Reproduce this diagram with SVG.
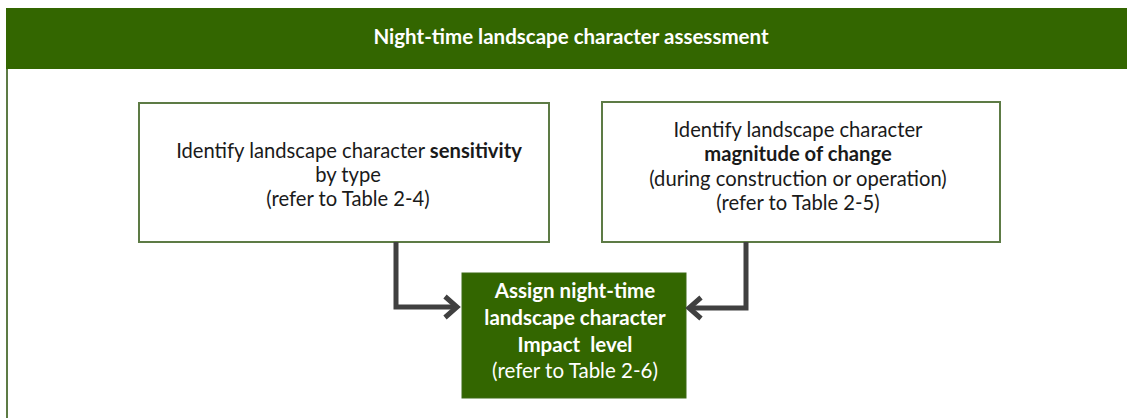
<svg xmlns="http://www.w3.org/2000/svg" width="1127" height="418" viewBox="0 0 1127 418">
  <style>
    .t { font-family: Lato, "Open Sans", "Liberation Sans", sans-serif; text-anchor: middle; }
    .dark { fill: #1a1a1a; font-size: 20.2px; }
    .light { fill: #ffffff; font-size: 20.5px; }
    .b { font-weight: bold; }
    .box { fill: #ffffff; stroke: #5d7b45; stroke-width: 2; }
    .conn { fill: none; stroke: #404040; stroke-width: 5; stroke-linejoin: miter; }
  </style>
  <defs>
    <marker id="chev" markerUnits="userSpaceOnUse" markerWidth="20" markerHeight="30" refX="14" refY="12" orient="auto" viewBox="0 0 20 24">
      <polyline points="2,1.5 14,12 2,22.5" fill="none" stroke="#404040" stroke-width="5"/>
    </marker>
  </defs>

  <rect width="1127" height="418" fill="#ffffff"/>

  <!-- frame: header band and left rule -->
  <g id="frame">
    <rect x="6" y="8" width="1121" height="61" fill="#336600"/>
    <line x1="7" y1="69" x2="7" y2="418" stroke="#5d7b45" stroke-width="2"/>
    <text class="t light b" x="571" y="44" font-size="18.4">Night-time landscape character assessment</text>
  </g>

  <g id="sensitivity">
    <rect class="box" x="139" y="103" width="410" height="139"/>
    <text class="t dark" x="349" y="158">Identify landscape character <tspan class="b">sensitivity</tspan></text>
    <text class="t dark" x="348" y="182">by type</text>
    <text class="t dark" x="348" y="206">(refer to Table 2-4)</text>
  </g>

  <g id="magnitude">
    <rect class="box" x="602" y="102" width="398" height="140"/>
    <text class="t dark" x="798" y="137">Identify landscape character</text>
    <text class="t dark b" x="798" y="161">magnitude of change</text>
    <text class="t dark" x="798" y="186">(during construction or operation)</text>
    <text class="t dark" x="798" y="210">(refer to Table 2-5)</text>
  </g>

  <g id="impact">
    <rect x="462" y="273" width="224" height="125" fill="#336600" stroke="#3d6a14" stroke-width="1"/>
    <text class="t light b" x="575" y="298">Assign night-time</text>
    <text class="t light b" x="575" y="325">landscape character</text>
    <text class="t light b" x="575" y="352" xml:space="preserve">Impact  level</text>
    <text class="t light" x="575" y="378">(refer to Table 2-6)</text>
  </g>

  <g id="connectors">
    <path class="conn" d="M396,242 V307 H457" marker-end="url(#chev)"/>
    <path class="conn" d="M746,242 V308 H689" marker-end="url(#chev)"/>
  </g>
</svg>
